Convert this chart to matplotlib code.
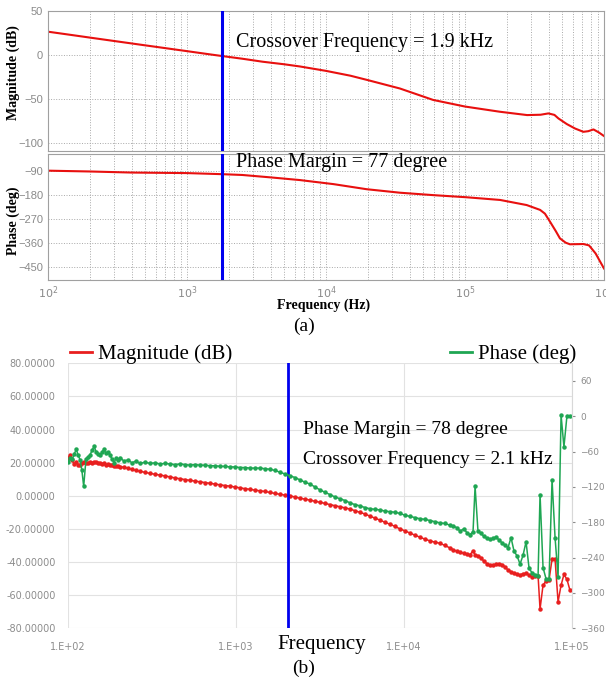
import math
import matplotlib
matplotlib.use("Agg")
import matplotlib.pyplot as plt
from matplotlib.lines import Line2D
from matplotlib.ticker import FixedLocator, FuncFormatter, LogLocator, NullFormatter, NullLocator

SERIF = "Liberation Serif"
SANS = "Liberation Sans"
TICK_GREY = "#8a8a8a"

# (a) simulated loop gain
sim_mag_freq = [100, 150, 200, 300, 500, 700, 1000, 1500, 1780, 2500, 3500, 5000, 6500,
                10000, 15000, 20000, 34000, 59000, 100000, 178000, 280000, 350000,
                398000, 440000, 470000, 540000, 620000, 710000, 770000, 840000, 920000, 1000000]
sim_mag = [26.5, 22.6, 19.8, 15.9, 11.0, 7.8, 4.4, 0.5, -1.1, -4.2, -7.6, -10.5, -13.0,
           -18.0, -23.5, -28.5, -38.0, -51.0, -58.5, -64.4, -68.2, -67.8,
           -66.3, -68.0, -72.0, -78.4, -83.5, -87.2, -86.5, -84.5, -88.0, -92.0]

sim_phase_freq = [100, 200, 400, 1000, 1780, 2500, 4000, 6500, 11300, 19600, 34000, 59000,
                  103000, 179000, 278000, 347000, 376000, 409000, 450000, 482000, 530000,
                  569000, 710000, 780000, 815000, 870000, 930000, 1000000]
sim_phase = [-90, -93, -97, -99, -103, -106, -115, -125, -140, -159, -172, -181,
             -189, -199, -218, -236, -250, -280, -315, -342, -358,
             -364, -363, -368, -380, -398, -425, -454]
sim_crossover = 1.8e3

# (b) measured loop gain
meas_freq = [100, 103, 106, 109, 112, 115, 118, 121, 124, 128, 132, 135, 139, 143, 147,
             151, 155, 159, 164, 168, 173, 178, 183, 188, 193, 198, 204, 215, 228, 240,
             254, 268, 287, 308, 330, 353, 378, 405, 433, 464, 497, 532, 570, 611, 654,
             700, 750, 803, 860, 921, 986, 1057, 1132, 1211, 1298, 1389, 1489, 1594, 1708,
             1829, 1958, 2096, 2245, 2405, 2575, 2755, 2951, 3162, 3386, 3627, 3884, 4160,
             4455, 4770, 5109, 5471, 5860, 6276, 6721, 7198, 7709, 8256, 8842, 9470,
             10140, 10860, 11620, 12450, 13330, 14280, 15290, 16380, 17540, 18780, 19580,
             20650, 21550, 22760, 23720, 24720, 25760, 26490, 27560, 28720, 29930, 31190,
             32500, 33870, 35290, 36770, 38320, 39930, 41610, 43360, 45180, 47080, 49060,
             51120, 53270, 55510, 57840, 60270, 62810, 64530, 67240, 70070, 73010, 76080,
             79280, 82610, 86080, 89540, 93330, 97220]
meas_mag = [22.6, 24.6, 21.5, 19.0, 20.5, 18.6, 18.8, 19.8, 20.5, 19.6, 19.8, 20.5, 20.0,
            20.6, 20.2, 19.6, 20.0, 19.2, 19.5, 18.6, 19.0, 18.4, 18.8, 18.2, 18.2, 17.8,
            17.6, 17.2, 16.6, 16.0, 15.3, 14.8, 14.2, 13.5, 13.0, 12.5, 12.0, 11.4, 10.8,
            10.3, 9.8, 9.3, 8.9, 8.4, 8.0, 7.5, 7.1, 6.6, 6.2, 5.8, 5.3, 4.8, 4.3, 3.9,
            3.4, 3.0, 2.6, 2.0, 1.4, 0.9, 0.4, -0.1, -0.7, -1.5, -2.0, -2.6, -3.3, -3.9,
            -4.6, -5.3, -6.0, -6.6, -7.3, -8.0, -9.0, -10.0, -11.0, -12.3, -13.5, -14.7,
            -16.0, -17.2, -18.5, -20.0, -21.2, -22.5, -23.8, -25.0, -26.2, -27.2, -28.0,
            -28.7, -30.0, -31.5, -32.5, -33.5, -34.0, -34.8, -35.3, -35.5, -33.3, -35.5,
            -36.2, -37.5, -39.5, -41.0, -41.8, -41.6, -41.4, -40.9, -41.5, -43.0, -44.8,
            -45.8, -46.8, -47.5, -47.8, -47.0, -46.8, -47.8, -48.9, -48.5, -48.2, -68.4,
            -53.9, -51.5, -50.8, -38.2, -38.3, -64.0, -54.0, -47.5, -50.5, -57.0]
meas_phase = [-78, -71, -73, -64, -56, -66, -74, -92, -119, -72, -69, -66, -58, -51, -60,
              -64, -66, -61, -56, -63, -61, -66, -73, -79, -71, -74, -70, -76, -74, -79,
              -76, -80, -78, -80, -79, -81, -80, -81, -82, -81, -82, -83, -82, -83, -83,
              -84, -84, -85, -85, -86, -86, -87, -87, -88, -88, -88, -89, -90, -92,
              -95, -98, -101, -104, -108, -112, -115, -120, -125, -129, -133, -137, -140,
              -143, -147, -150, -152, -155, -157, -158, -159, -161, -162, -163, -165,
              -168, -170, -172, -174, -175, -177, -179, -181, -182, -185, -187,
              -189, -195, -191, -198, -201, -196, -119, -195, -199, -204, -207,
              -209, -207, -205, -210, -215, -219, -223, -206, -229, -237, -251,
              -236, -213, -258, -266, -269, -271, -133, -257, -276, -277, -108,
              -206, -273, 2, -52, 1, 0]
meas_crossover = 2.05e3

fig = plt.figure(figsize=(6.06, 6.83), dpi=100)

# ---- (a) Bode plot ----
ax_mag = fig.add_axes([0.0792, 0.7789, 0.9175, 0.205])
ax_ph = fig.add_axes([0.0792, 0.590, 0.9175, 0.1845])

for ax in (ax_mag, ax_ph):
    ax.set_xscale("log")
    ax.set_xlim(1e2, 1e6)
    ax.xaxis.set_major_locator(LogLocator(base=10, numticks=10))
    ax.xaxis.set_minor_locator(LogLocator(base=10, subs=range(2, 10), numticks=50))
    ax.xaxis.set_minor_formatter(NullFormatter())
    ax.grid(which="both", axis="x", linestyle=":", color="#a8a8a8", linewidth=0.7)
    ax.grid(which="major", axis="y", linestyle=":", color="#a8a8a8", linewidth=0.7)
    ax.tick_params(which="both", length=0, colors=TICK_GREY, labelsize=8)
    for tl in ax.get_yticklabels():
        tl.set_fontfamily(SANS)
    for s in ax.spines.values():
        s.set_color("#a0a0a0")
        s.set_linewidth(0.8)
    ax.axvline(sim_crossover, color="#0000ee", linewidth=2.2, zorder=3)

ax_mag.plot(sim_mag_freq, sim_mag, color="#e8100f", linewidth=1.5)
ax_mag.set_ylim(-109, 50)
ax_mag.set_yticks([-100, -50, 0, 50])
ax_mag.tick_params(axis="x", labelbottom=False)
ax_mag.set_ylabel("Magnitude (dB)", fontfamily=SERIF, fontweight="bold", fontsize=10)
ax_mag.yaxis.set_label_coords(-0.05, 0.56)

ax_ph.plot(sim_phase_freq, sim_phase, color="#e8100f", linewidth=1.5)
ax_ph.set_ylim(-497, -28)
ax_ph.set_yticks([-450, -360, -270, -180, -90])
ax_ph.tick_params(axis="x", pad=3)
ax_ph.set_ylabel("Phase (deg)", fontfamily=SERIF, fontweight="bold", fontsize=10)
ax_ph.yaxis.set_label_coords(-0.05, 0.47)

fig.text(324 / 606, 1 - 305 / 683, "Frequency (Hz)", ha="center", va="center",
         fontfamily=SERIF, fontweight="bold", fontsize=10)
fig.text(236 / 606, 1 - 43 / 683, "Crossover Frequency = 1.9 kHz", va="center",
         fontfamily=SERIF, fontsize=14.5)
fig.text(236 / 606, 1 - 163 / 683, "Phase Margin = 77 degree", va="center",
         fontfamily=SERIF, fontsize=14.5)
fig.text(304 / 606, 1 - 326 / 683, "(a)", ha="center", va="center",
         fontfamily=SERIF, fontsize=14)

# ---- (b) measured response ----
ax_b = fig.add_axes([0.1122, 0.0801, 0.8317, 0.388])
ax_b.set_xscale("log")
ax_b.set_xlim(1e2, 1e5)
ax_b.set_ylim(-80, 80)
ax_b.set_yticks(range(-80, 81, 20))
ax_b.yaxis.set_major_formatter(FuncFormatter(lambda v, p: f"{v:.5f}"))
ax_b.xaxis.set_major_locator(FixedLocator([1e2, 1e3, 1e4, 1e5]))
ax_b.xaxis.set_major_formatter(FuncFormatter(lambda v, p: "1.E+%02d" % round(math.log10(v))))
ax_b.xaxis.set_minor_locator(NullLocator())
ax_b.grid(True, which="major", color="#e2e2e2", linewidth=0.8)
ax_b.tick_params(length=0, colors="#8c8c8c", labelsize=7)
ax_b.tick_params(axis="y", pad=9)
ax_b.tick_params(axis="x", pad=10)
for s in ax_b.spines.values():
    s.set_visible(False)

ax_b.plot(meas_freq, meas_mag, color="#e81f1f", linewidth=1.1, marker="o", markersize=2.2,
          label="Magnitude (dB)")
ax_b.axvline(meas_crossover, color="#0000ee", linewidth=2.0, zorder=4)

ax_p = ax_b.twinx()
ax_p.set_ylim(-360, 90)
ax_p.set_yticks(range(-360, 61, 60))
ax_p.tick_params(length=2, colors="#8c8c8c", labelsize=6.5, pad=4)
for s in ax_p.spines.values():
    s.set_visible(False)
ax_p.spines["right"].set_visible(True)
ax_p.spines["right"].set_color("#d8d8d8")
ax_p.plot(meas_freq, meas_phase, color="#1fa653", linewidth=1.1, marker="o", markersize=2.2,
          label="Phase (deg)")

leg_kw = dict(frameon=False, handlelength=1.05, handletextpad=0.3, borderpad=0,
              borderaxespad=0, prop={"family": SERIF, "size": 15})
fig.legend(handles=[Line2D([], [], color="#e81f1f", linewidth=2)], labels=["Magnitude (dB)"],
           loc="center left", bbox_to_anchor=(70 / 606, 1 - 354 / 683), **leg_kw)
fig.legend(handles=[Line2D([], [], color="#1fa653", linewidth=2)], labels=["Phase (deg)"],
           loc="center left", bbox_to_anchor=(450 / 606, 1 - 354 / 683), **leg_kw)

fig.text(303 / 606, 1 - 430 / 683, "Phase Margin = 78 degree", va="center",
         fontfamily=SERIF, fontsize=14)
fig.text(303 / 606, 1 - 459 / 683, "Crossover Frequency = 2.1 kHz", va="center",
         fontfamily=SERIF, fontsize=14)
fig.text(322 / 606, 1 - 644 / 683, "Frequency", ha="center", va="center",
         fontfamily=SERIF, fontsize=15)
fig.text(304 / 606, 1 - 668 / 683, "(b)", ha="center", va="center",
         fontfamily=SERIF, fontsize=14)

fig.savefig("out.png", dpi=100)
